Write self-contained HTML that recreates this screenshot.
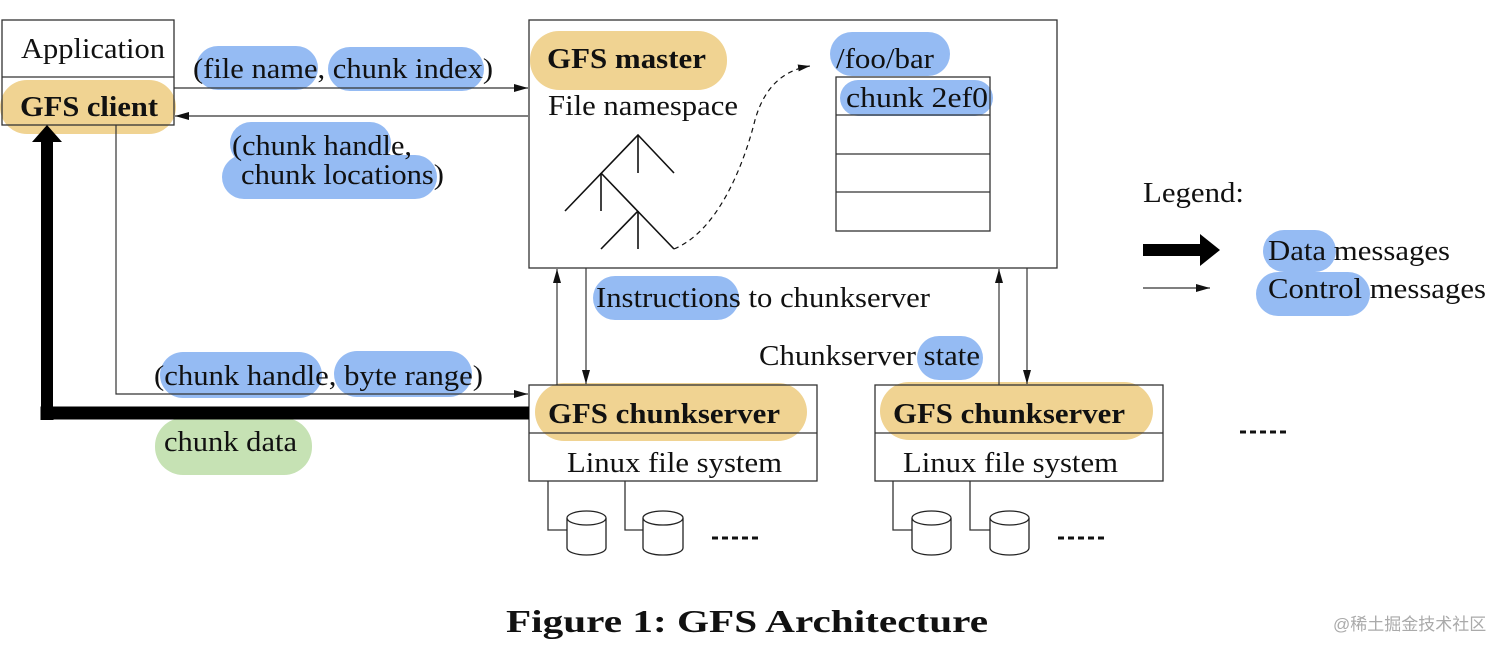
<!DOCTYPE html>
<html><head><meta charset="utf-8"><style>
html,body{margin:0;padding:0;background:#fff;}
svg{display:block;}
text{font-family:"Liberation Serif",serif;fill:#111;}
.b{font-weight:bold;}
</style></head><body>
<svg width="1512" height="653" viewBox="0 0 1512 653" xmlns="http://www.w3.org/2000/svg">
<defs>
<marker id="ah" markerWidth="14" markerHeight="8" refX="14" refY="4" orient="auto" markerUnits="userSpaceOnUse"><path d="M0,0 L14,4 L0,8 Z" fill="#111"/></marker>
<marker id="ahs" markerWidth="12" markerHeight="7" refX="12" refY="3.5" orient="auto" markerUnits="userSpaceOnUse"><path d="M0,0 L12,3.5 L0,7 Z" fill="#111"/></marker>
</defs>
<g fill="#f0d392">
<rect x="0" y="80" width="176" height="54" rx="27"/>
<rect x="530" y="31" width="197" height="59" rx="29"/>
<rect x="535" y="383" width="272" height="58" rx="29"/>
<rect x="880" y="382" width="273" height="58" rx="29"/>
</g>
<g fill="#8ab4f2" opacity="0.9">
<rect x="196" y="46" width="122" height="44" rx="22"/>
<rect x="328" y="47" width="156" height="44" rx="22"/>
<rect x="230" y="122" width="161" height="43" rx="21"/>
<rect x="222" y="155" width="215" height="44" rx="22"/>
<rect x="830" y="32" width="120" height="44" rx="22"/>
<rect x="840" y="80" width="153" height="36" rx="18"/>
<rect x="593" y="276" width="146" height="44" rx="22"/>
<rect x="917" y="336" width="66" height="44" rx="22"/>
<rect x="160" y="352" width="162" height="46" rx="23"/>
<rect x="334" y="351" width="138" height="46" rx="23"/>
<rect x="1263" y="230" width="73" height="42" rx="21"/>
<rect x="1256" y="272" width="114" height="44" rx="22"/>
</g>
<rect x="155" y="418" width="157" height="57" rx="28" fill="#c6e2b4"/>
<g fill="none" stroke="#333" stroke-width="1.3">
<rect x="2" y="20" width="172" height="105"/>
<line x1="2" y1="77" x2="174" y2="77"/>
<rect x="529" y="20" width="528" height="248"/>
<rect x="836" y="77" width="154" height="154"/>
<line x1="836" y1="115" x2="990" y2="115"/>
<line x1="836" y1="154" x2="990" y2="154"/>
<line x1="836" y1="192" x2="990" y2="192"/>
<rect x="529" y="385" width="288" height="96"/>
<line x1="529" y1="433" x2="817" y2="433"/>
<rect x="875" y="385" width="288" height="96"/>
<line x1="875" y1="433" x2="1163" y2="433"/>
<polyline points="548,481 548,530 567,530"/>
<polyline points="625,481 625,530 643,530"/>
<polyline points="893,481 893,530 912,530"/>
<polyline points="970,481 970,530 990,530"/>
</g>
<g fill="#fff" stroke="#222" stroke-width="1.3">
<path d="M567,518 v30 a19.5,7 0 0 0 39,0 v-30"/><ellipse cx="586.5" cy="518" rx="19.5" ry="7"/>
<path d="M643,518 v30 a20,7 0 0 0 40,0 v-30"/><ellipse cx="663" cy="518" rx="20" ry="7"/>
<path d="M912,518 v30 a19.5,7 0 0 0 39,0 v-30"/><ellipse cx="931.5" cy="518" rx="19.5" ry="7"/>
<path d="M990,518 v30 a19.5,7 0 0 0 39,0 v-30"/><ellipse cx="1009.5" cy="518" rx="19.5" ry="7"/>
</g>
<g stroke="#111" stroke-width="3" stroke-dasharray="6,4">
<line x1="712" y1="538" x2="760" y2="538"/>
<line x1="1058" y1="538" x2="1106" y2="538"/>
<line x1="1240" y1="432" x2="1290" y2="432"/>
</g>
<g stroke="#111" stroke-width="1.6" fill="none">
<polyline points="565,211 638,135 674,173"/><line x1="638" y1="135" x2="638" y2="173"/>
<polyline points="601,173 674,249"/><line x1="601" y1="173" x2="601" y2="211"/>
<polyline points="601,249 638,211"/><line x1="638" y1="211" x2="638" y2="249"/>
</g>
<path d="M674,249 C720,230 745,160 755,120 C765,85 785,70 810,66" fill="none" stroke="#111" stroke-width="1.2" stroke-dasharray="5,4" marker-end="url(#ahs)"/>
<g stroke="#333" stroke-width="1.2" fill="none">
<line x1="174" y1="88" x2="528" y2="88" marker-end="url(#ah)"/>
<line x1="528" y1="116" x2="175" y2="116" marker-end="url(#ah)"/>
<polyline points="116,125 116,394 528,394" marker-end="url(#ah)"/>
<line x1="557" y1="385" x2="557" y2="269" marker-end="url(#ah)"/>
<line x1="586" y1="268" x2="586" y2="384" marker-end="url(#ah)"/>
<line x1="999" y1="385" x2="999" y2="269" marker-end="url(#ah)"/>
<line x1="1027" y1="268" x2="1027" y2="384" marker-end="url(#ah)"/>
<line x1="1143" y1="288" x2="1210" y2="288" marker-end="url(#ah)"/>
</g>
<polyline points="47,420 47,413 529,413" fill="none" stroke="#000" stroke-width="13"/>
<path d="M41,420 V142 H32 L47,125 L62,142 H53 V420 Z" fill="#000"/>
<path d="M1143,244 H1200 V234 L1220,250 L1200,266 V256 H1143 Z" fill="#000"/>
<g font-size="29" lengthAdjust="spacingAndGlyphs">
<text x="21" y="58" textLength="144" lengthAdjust="spacingAndGlyphs">Application</text>
<text x="20" y="116" class="b" textLength="138" lengthAdjust="spacingAndGlyphs">GFS client</text>
<text x="193" y="78" textLength="300" lengthAdjust="spacingAndGlyphs">(file name, chunk index)</text>
<text x="232" y="155" textLength="180" lengthAdjust="spacingAndGlyphs">(chunk handle,</text>
<text x="241" y="184" textLength="203" lengthAdjust="spacingAndGlyphs">chunk locations)</text>
<text x="547" y="68" class="b" textLength="159" lengthAdjust="spacingAndGlyphs">GFS master</text>
<text x="548" y="115" textLength="190" lengthAdjust="spacingAndGlyphs">File namespace</text>
<text x="836" y="68" textLength="98" lengthAdjust="spacingAndGlyphs">/foo/bar</text>
<text x="846" y="107" textLength="142" lengthAdjust="spacingAndGlyphs">chunk 2ef0</text>
<text x="596" y="307" textLength="334" lengthAdjust="spacingAndGlyphs">Instructions to chunkserver</text>
<text x="759" y="365" textLength="221" lengthAdjust="spacingAndGlyphs">Chunkserver state</text>
<text x="154" y="385" textLength="329" lengthAdjust="spacingAndGlyphs">(chunk handle, byte range)</text>
<text x="164" y="451" textLength="133" lengthAdjust="spacingAndGlyphs">chunk data</text>
<text x="548" y="423" class="b" textLength="232" lengthAdjust="spacingAndGlyphs">GFS chunkserver</text>
<text x="893" y="423" class="b" textLength="232" lengthAdjust="spacingAndGlyphs">GFS chunkserver</text>
<text x="567" y="472" textLength="215" lengthAdjust="spacingAndGlyphs">Linux file system</text>
<text x="903" y="472" textLength="215" lengthAdjust="spacingAndGlyphs">Linux file system</text>
<text x="1143" y="202" textLength="101" lengthAdjust="spacingAndGlyphs">Legend:</text>
<text x="1268" y="260" textLength="182" lengthAdjust="spacingAndGlyphs">Data messages</text>
<text x="1268" y="298" textLength="218" lengthAdjust="spacingAndGlyphs">Control messages</text>
</g>
<text x="506" y="632" class="b" font-size="32" textLength="482" lengthAdjust="spacingAndGlyphs">Figure 1:  GFS Architecture</text>
<text x="1333" y="630" font-size="17" style="font-family:'Liberation Sans','Noto Sans CJK SC',sans-serif;fill:#aaa">@稀土掘金技术社区</text>
</svg>
</body></html>
